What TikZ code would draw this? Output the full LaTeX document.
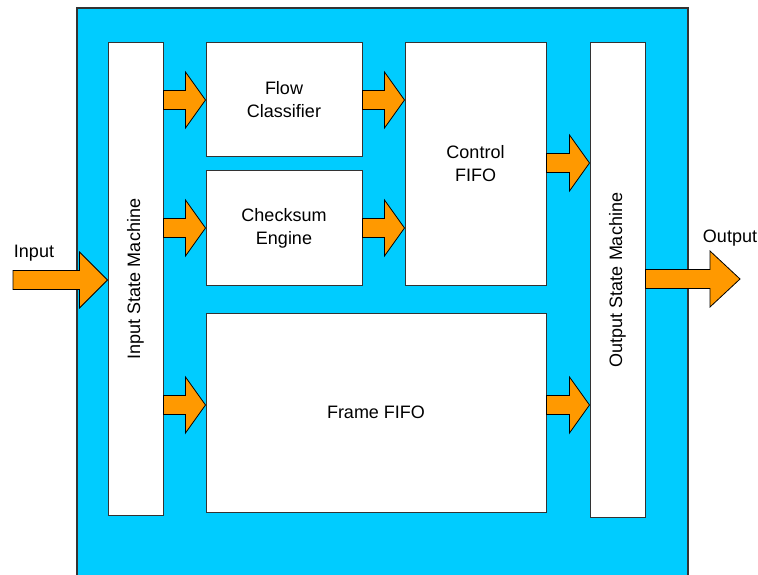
\documentclass[tikz,border=0pt]{standalone}
\usepackage{fontspec}
\setmainfont{Liberation Sans}
\usetikzlibrary{calc}
\definecolor{bgblue}{HTML}{00CCFF}
\definecolor{arrorange}{HTML}{FF9900}
\definecolor{edgegray}{HTML}{333333}
\tikzset{
  blockbox/.style={draw=edgegray, line width=1pt, fill=white, inner sep=0pt, align=center,
    font=\fontsize{18}{23}\selectfont},
  barrow/.style={draw=black, line width=0.8pt, fill=arrorange, line join=miter},
  lbl/.style={font=\fontsize{18}{23}\selectfont, inner sep=0pt}
}
\newcommand\blkarrow[3]{%
  \draw[barrow] let \p1=#1, \p2=#2 in
    (\x1,\y1+9.5pt) -- (\x2-#3,\y1+9.5pt) -- (\x2-#3,\y1+28pt) -- (\x2,\y1)
    -- (\x2-#3,\y1-28pt) -- (\x2-#3,\y1-9.5pt) -- (\x1,\y1-9.5pt) -- cycle;}
\begin{document}
\begin{tikzpicture}[x=1pt,y=-1pt]
\useasboundingbox (0,0) rectangle (758,575);
\begin{scope}
\clip (0,0) rectangle (758,575);
\draw[draw=edgegray, line width=1.5pt, fill=bgblue] (77,8) rectangle (688,590);
\end{scope}
% boxes
\node[blockbox, minimum width=55pt, minimum height=472pt] (ism) at (135.5,279) {};
\node[rotate=90, lbl] (ismlbl) at (ism.center) {Input State Machine};
\node[blockbox, minimum width=156pt, minimum height=114pt] (fc) at (284,100) {Flow\\Classifier};
\node[blockbox, minimum width=156pt, minimum height=114pt] (ce) at (284,228) {Checksum\\Engine};
\node[blockbox, minimum width=141pt, minimum height=242pt] (cf) at (475.5,164) {Control\\FIFO};
\node[blockbox, minimum width=340pt, minimum height=199pt] (ff) at (376,412.5) {Frame FIFO};
\node[blockbox, minimum width=55pt, minimum height=474pt] (osm) at (617.5,280) {};
\node[rotate=90, lbl] (osmlbl) at (osm.center) {Output State Machine};
% labels
\node[lbl] (inlbl) at (34,253) {Input};
\node[lbl] (outlbl) at (730,238) {Output};
% arrows
\coordinate (inStart) at (13,280);
\coordinate (outEnd) at (740,279);
\blkarrow{(inStart)}{(ism.west |- inStart)}{28pt}
\blkarrow{(ism.east |- fc.west)}{(fc.west)}{20pt}
\blkarrow{(ism.east |- ce.west)}{(ce.west)}{20pt}
\coordinate (ffin) at (ff.west |- 0,405);
\blkarrow{(ism.east |- ffin)}{(ffin)}{20pt}
\blkarrow{(fc.east)}{(cf.west |- fc.east)}{20pt}
\blkarrow{(ce.east)}{(cf.west |- ce.east)}{20pt}
\coordinate (cfout) at (cf.east |- 0,163);
\blkarrow{(cfout)}{(osm.west |- cfout)}{20pt}
\coordinate (ffout) at (ff.east |- 0,405);
\blkarrow{(ffout)}{(osm.west |- ffout)}{20pt}
\blkarrow{(osm.east |- outEnd)}{(outEnd)}{30pt}
\end{tikzpicture}
\end{document}
